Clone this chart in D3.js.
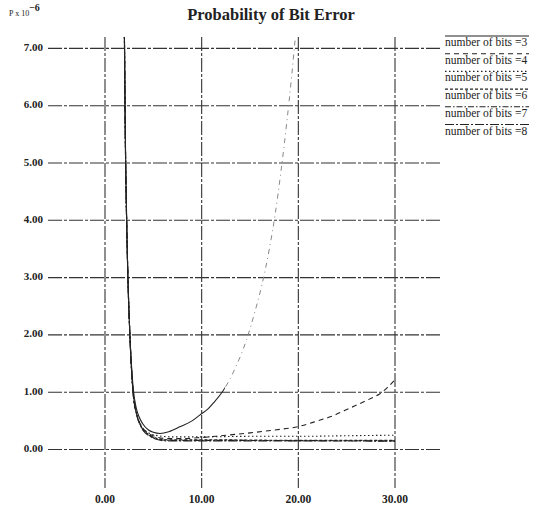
<!DOCTYPE html>
<html>
<head>
<meta charset="utf-8">
<script src="https://cdn.jsdelivr.net/npm/d3@7"></script>
<style>
  body { margin: 0; background: #fff; }
  svg { font-family: 'Liberation Serif', 'DejaVu Serif', serif; }
</style>
</head>
<body>
<div id="chart"></div>
<script>
// values
const xTicks = [0, 10, 20, 30];
const yTicks = [0, 1, 2, 3, 4, 5, 6, 7];
const bitCounts = [3, 4, 5, 6, 7, 8];

const bits3 = [[2.0, 7.4], [2.05, 6.5], [2.1, 5.5], [2.2, 4.4], [2.3, 3.5], [2.4, 2.8], [2.55, 2.1], [2.75, 1.45],
  [2.95, 1.02], [3.2, 0.75], [3.5, 0.58], [3.9, 0.45], [4.5, 0.34], [5.0, 0.3], [5.7, 0.28], [6.6, 0.31],
  [7.8, 0.4], [9.0, 0.5], [9.8, 0.6], [10.6, 0.7], [11.2, 0.81], [12.2, 1.02], [13.5, 1.43], [14.65, 1.92],
  [15.5, 2.4], [16.2, 2.85], [17.0, 3.5], [17.6, 4.1], [18.2, 4.85], [18.8, 5.7], [19.3, 6.5], [19.8, 7.4]];
const bits4 = [[2.0, 7.4], [2.05, 6.5], [2.1, 5.5], [2.2, 4.4], [2.3, 3.5], [2.4, 2.8], [2.55, 2.1], [2.75, 1.4],
  [2.9, 1.0], [3.1, 0.75], [3.3, 0.6], [3.8, 0.4], [4.65, 0.27], [5.5, 0.21], [6.4, 0.19], [8.0, 0.19],
  [10.0, 0.21], [12.0, 0.24], [15.0, 0.29], [17.5, 0.34], [20.0, 0.4], [22.0, 0.5], [23.3, 0.57],
  [25.3, 0.72], [27.6, 0.9], [28.4, 0.97], [29.2, 1.08], [30.0, 1.22]];
const bits5 = [[2.0, 7.4], [2.1, 5.5], [2.3, 3.5], [2.55, 2.1], [2.9, 1.0], [3.3, 0.6], [3.8, 0.4],
  [4.65, 0.28], [5.5, 0.24], [7.0, 0.22], [10.0, 0.22], [15.0, 0.23], [20.0, 0.23], [25.0, 0.24], [30.0, 0.25]];
const bits6 = [[2.0, 7.4], [2.1, 5.5], [2.3, 3.5], [2.55, 2.1], [2.9, 1.0], [3.3, 0.6], [3.8, 0.39],
  [4.65, 0.25], [5.5, 0.19], [6.4, 0.17], [10.0, 0.17], [20.0, 0.16], [30.0, 0.16]];
const bits7 = [[2.0, 7.4], [2.1, 5.5], [2.3, 3.5], [2.55, 2.1], [2.9, 1.0], [3.3, 0.6], [3.8, 0.38],
  [4.65, 0.24], [5.5, 0.18], [6.4, 0.16], [10.0, 0.16], [20.0, 0.155], [30.0, 0.15]];
const bits8 = [[2.0, 7.4], [2.1, 5.5], [2.3, 3.5], [2.55, 2.1], [2.9, 1.0], [3.3, 0.6], [3.8, 0.37],
  [4.65, 0.23], [5.5, 0.17], [6.4, 0.15], [10.0, 0.15], [20.0, 0.15], [30.0, 0.145]];
const seriesData = [bits3, bits4, bits5, bits6, bits7, bits8];

const width = 540;
const height = 505;
const dashes = ['none', '5,4', '1.5,2.5', '3,2', '6,2,1.5,2', '9,2,2,2'];
const ink = '#222';
// past this x the 3-bit curve is only faintly printed in the original
const fadeFrom = 12.4;

const svg = d3.select('#chart')
  .append('svg')
  .attr('width', width)
  .attr('height', height);

const x = d3.scaleLinear().domain([0, 30]).range([105, 395]);
const y = d3.scaleLinear().domain([0, 7]).range([449.5, 48.4]);

// plot frame in pixels (gridlines run a bit past the ticks)
const frameLeft = 48, frameRight = 440, frameTop = 37, frameBottom = 488;

const defs = svg.append('defs');
defs.append('clipPath')
  .attr('id', 'plot-clip')
  .append('rect')
  .attr('x', frameLeft).attr('y', frameTop)
  .attr('width', frameRight - frameLeft).attr('height', frameBottom - frameTop);
defs.append('clipPath')
  .attr('id', 'strong-clip')
  .append('rect')
  .attr('x', frameLeft).attr('y', frameTop)
  .attr('width', x(fadeFrom) - frameLeft).attr('height', frameBottom - frameTop);
defs.append('clipPath')
  .attr('id', 'faint-clip')
  .append('rect')
  .attr('x', x(fadeFrom)).attr('y', frameTop)
  .attr('width', frameRight - x(fadeFrom)).attr('height', frameBottom - frameTop);

// grid
svg.append('g')
  .selectAll('line')
  .data(yTicks)
  .join('line')
  .attr('x1', frameLeft).attr('x2', frameRight)
  .attr('y1', d => y(d)).attr('y2', d => y(d))
  .attr('stroke', '#333')
  .attr('stroke-width', 1.1)
  .attr('stroke-dasharray', '14,2,3,2');

svg.append('g')
  .selectAll('line')
  .data(xTicks)
  .join('line')
  .attr('x1', d => x(d)).attr('x2', d => x(d))
  .attr('y1', frameTop).attr('y2', frameBottom)
  .attr('stroke', '#333')
  .attr('stroke-width', 1.1)
  .attr('stroke-dasharray', '14,2,3,2');

// tick labels
svg.append('g')
  .selectAll('text')
  .data(yTicks)
  .join('text')
  .attr('x', 43)
  .attr('y', d => y(d) - 1)
  .attr('dy', '0.32em')
  .attr('text-anchor', 'end')
  .attr('font-size', 11)
  .attr('font-weight', 'bold')
  .attr('fill', ink)
  .text(d => d.toFixed(2));

svg.append('g')
  .selectAll('text')
  .data(xTicks)
  .join('text')
  .attr('x', d => x(d))
  .attr('y', 503)
  .attr('text-anchor', 'middle')
  .attr('font-size', 11.5)
  .attr('font-weight', 'bold')
  .attr('fill', ink)
  .text(d => d.toFixed(2));

// curves
const line = d3.line()
  .x(d => x(d[0]))
  .y(d => y(d[1]))
  .curve(d3.curveMonotoneX);

svg.append('g')
  .attr('clip-path', 'url(#plot-clip)')
  .selectAll('path')
  .data(seriesData.slice(1))
  .join('path')
  .attr('d', line)
  .attr('fill', 'none')
  .attr('stroke', ink)
  .attr('stroke-width', 1.1)
  .attr('stroke-dasharray', (d, i) => dashes[i + 1]);

// 3-bit curve: solid up to the fade point, then faint broken trace
svg.append('path')
  .datum(bits3)
  .attr('clip-path', 'url(#strong-clip)')
  .attr('d', line)
  .attr('fill', 'none')
  .attr('stroke', ink)
  .attr('stroke-width', 1.1);

svg.append('path')
  .datum(bits3)
  .attr('clip-path', 'url(#faint-clip)')
  .attr('d', line)
  .attr('fill', 'none')
  .attr('stroke', '#888')
  .attr('stroke-width', 1)
  .attr('stroke-dasharray', '5,4,1,4');

// titles
svg.append('text')
  .attr('x', 271)
  .attr('y', 20)
  .attr('text-anchor', 'middle')
  .attr('font-size', 16.5)
  .attr('font-weight', 'bold')
  .attr('fill', ink)
  .text('Probability of Bit Error');

const unit = svg.append('text')
  .attr('x', 9)
  .attr('y', 16)
  .attr('font-size', 8)
  .attr('fill', ink);
unit.append('tspan').text('P x 10');
unit.append('tspan')
  .attr('dy', -5)
  .attr('font-size', 10)
  .attr('font-weight', 'bold')
  .text('−6');

// legend: sample line sits above each label
const legend = svg.append('g')
  .selectAll('g')
  .data(bitCounts)
  .join('g')
  .attr('transform', (d, i) => `translate(445, ${46 + i * 17.7})`);

legend.append('line')
  .attr('x1', 0).attr('x2', 84)
  .attr('y1', -10).attr('y2', -10)
  .attr('stroke', ink)
  .attr('stroke-width', 1.1)
  .attr('stroke-dasharray', (d, i) => dashes[i]);

legend.append('text')
  .attr('x', 0)
  .attr('y', 0)
  .attr('font-size', 11.5)
  .attr('fill', ink)
  .text(d => `number of bits =${d}`);
</script>
</body>
</html>
